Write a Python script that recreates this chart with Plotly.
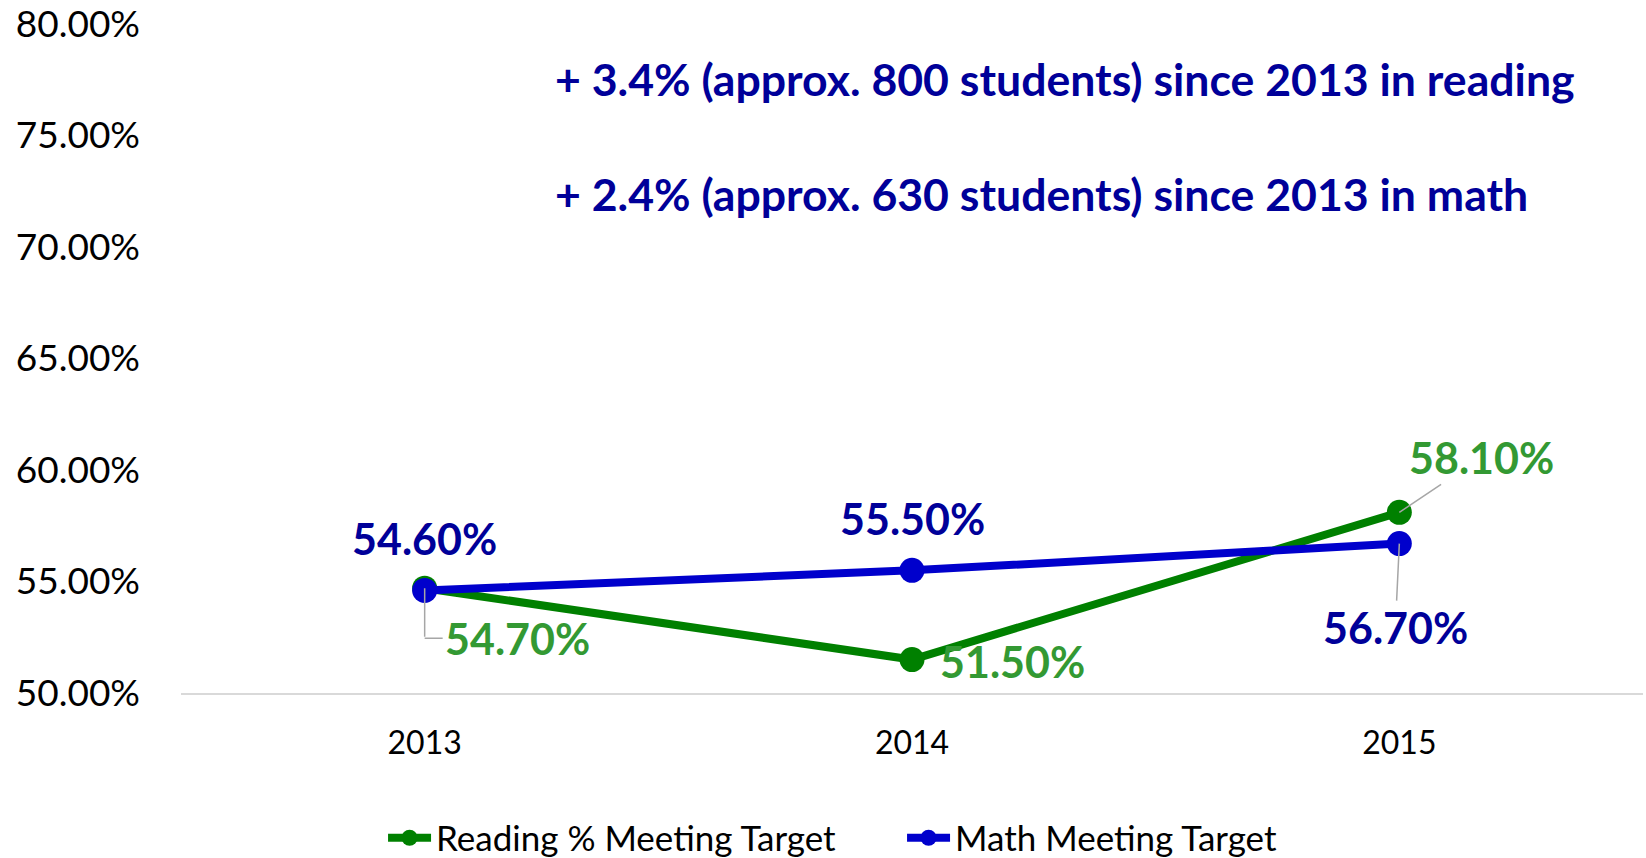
import plotly.graph_objects as go

years = ["2013", "2014", "2015"]
reading = [54.7, 51.5, 58.1]
math_vals = [54.6, 55.5, 56.7]
y_ticks = [50, 55, 60, 65, 70, 75, 80]
notes = [
    "+ 3.4% (approx. 800 students) since 2013 in reading",
    "+ 2.4% (approx. 630 students) since 2013 in math",
]

GREEN = "#008000"
BLUE = "#0000CC"
GREEN_LBL = "#339933"
BLUE_LBL = "#000099"
GREY = "#A6A6A6"
FONT = "Lato"

fig = go.Figure()
fig.add_trace(go.Scatter(
    x=years, y=reading, name="Reading % Meeting Target", mode="lines+markers",
    line=dict(color=GREEN, width=8), marker=dict(color=GREEN, size=25),
))
fig.add_trace(go.Scatter(
    x=years, y=math_vals, name="Math Meeting Target", mode="lines+markers",
    line=dict(color=BLUE, width=8), marker=dict(color=BLUE, size=25),
))


def lbl_font(c):
    return dict(family=FONT, size=43, color=c, weight="bold")


# category axis: annotations take the category index
idx = list(range(len(years)))

# Reading labels
fig.add_annotation(x=idx[0], y=reading[0], text="", showarrow=True, ax=0, ay=50,
                   arrowhead=0, arrowwidth=1.5, arrowcolor=GREY, standoff=0)
fig.add_annotation(x=idx[0], y=reading[0], yshift=-50, text=f"{reading[0]:.2f}%",
                   showarrow=True, ax=18, ay=0, xanchor="left", arrowhead=0,
                   arrowwidth=1.5, arrowcolor=GREY, standoff=0, font=lbl_font(GREEN_LBL))
fig.add_annotation(x=idx[1], y=reading[1], xshift=100, yshift=-2, text=f"{reading[1]:.2f}%",
                   showarrow=False, font=lbl_font(GREEN_LBL))
fig.add_annotation(x=idx[2], y=reading[2], text=f"{reading[2]:.2f}%", showarrow=True,
                   ax=82, ay=-55, arrowhead=0, arrowwidth=1.5, arrowcolor=GREY, standoff=0,
                   font=lbl_font(GREEN_LBL))
# Math labels
fig.add_annotation(x=idx[0], y=math_vals[0], yshift=52, text=f"{math_vals[0]:.2f}%",
                   showarrow=False, font=lbl_font(BLUE_LBL))
fig.add_annotation(x=idx[1], y=math_vals[1], yshift=52, text=f"{math_vals[1]:.2f}%",
                   showarrow=False, font=lbl_font(BLUE_LBL))
fig.add_annotation(x=idx[2], y=math_vals[2], text=f"{math_vals[2]:.2f}%", showarrow=True,
                   ax=-4, ay=84, arrowhead=0, arrowwidth=1.5, arrowcolor=GREY, standoff=0,
                   font=lbl_font(BLUE_LBL))

# Summary notes
for txt, yp in zip(notes, [0.9178, 0.7459]):
    fig.add_annotation(xref="paper", yref="paper", x=0.2545, y=yp, xanchor="left",
                       yanchor="middle", text=txt, showarrow=False,
                       font=dict(family=FONT, size=44.6, color=BLUE_LBL, weight="bold"))

fig.update_layout(
    width=1646, height=858,
    margin=dict(l=181, r=3, t=24, b=165, autoexpand=False),
    plot_bgcolor="white", paper_bgcolor="white",
    font=dict(family=FONT, color="black"),
    showlegend=True,
    legend=dict(orientation="h", x=0.1382, xanchor="left", y=-0.2167, yanchor="middle",
                entrywidth=461, entrywidthmode="pixels", itemwidth=43,
                font=dict(family=FONT, size=35, color="black")),
    xaxis=dict(type="category", range=[-0.5, 2.5], showgrid=False, showline=True,
               linecolor="#D9D9D9", linewidth=2, ticks="", ticklabelstandoff=21,
               tickfont=dict(family=FONT, size=32, color="black")),
    yaxis=dict(range=[50, 80], tickvals=y_ticks,
               ticktext=[f"{v:.2f}%" for v in y_ticks], ticklabeloverflow="allow",
               showgrid=False, zeroline=False, showline=False, ticks="",
               ticklabelstandoff=40,
               tickfont=dict(family=FONT, size=37, color="black")),
)

fig.write_html("out.html", config={"displayModeBar": False},
               post_script="document.body.style.margin='0';document.body.style.overflow='hidden';")
